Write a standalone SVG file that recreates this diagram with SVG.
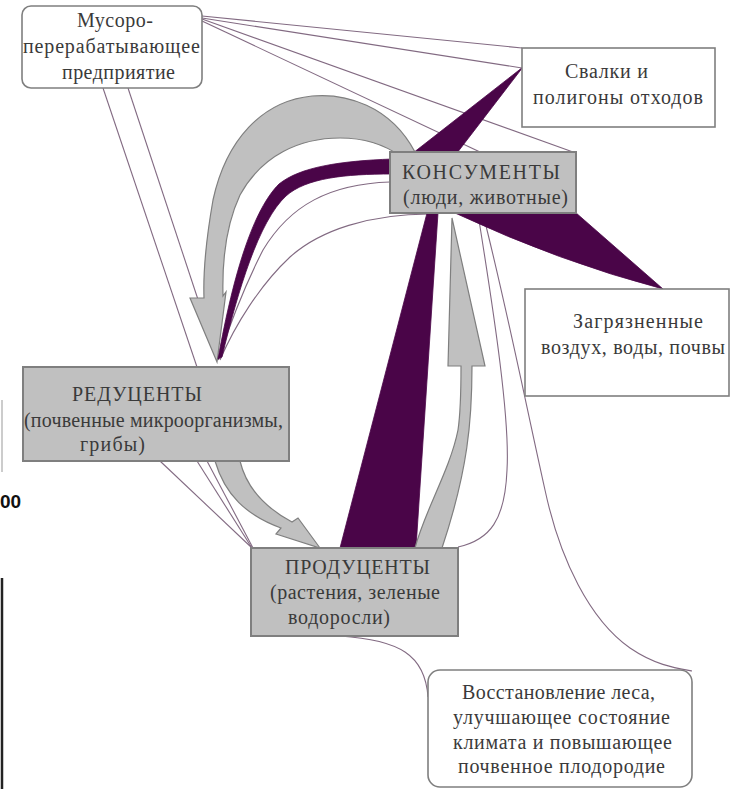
<svg xmlns="http://www.w3.org/2000/svg" width="731" height="789" viewBox="0 0 731 789">
<style>
.bg{fill:#ffffff}
.wbox{fill:#ffffff;stroke:#7f7f7f;stroke-width:1.6}
.gbox{fill:#c0c0c0;stroke:#7f7f7f;stroke-width:2}
.t{font-family:"Liberation Serif","Times New Roman",serif;font-size:20px;fill:#3a3a3a}
.thin{fill:none;stroke:#826a82;stroke-width:1.1}
.purple{fill:#4a0548;stroke:#4a0548;stroke-width:0.8}
.grey{fill:#c0c0c0;stroke:#7f7f7f;stroke-width:1.2}
</style>
<rect class="bg" x="0" y="0" width="731" height="789"/>
<g id="edge-artifacts">
<text x="0" y="508" font-family="Liberation Sans, Arial, sans-serif" font-size="19" font-weight="bold" fill="#111">00</text>
<line x1="2" y1="578" x2="2" y2="789" stroke="#222" stroke-width="2.5"/>
<line x1="2" y1="400" x2="2" y2="472" stroke="#bbbbbb" stroke-width="1.5"/>
</g>
<g id="connectors">
<path class="thin" d="M202,16 L522,48"/>
<path class="thin" d="M202,18 L522,68"/>
<path class="thin" d="M202,19 L573,152"/>
<path class="thin" d="M202,21 L480,152"/>
<path class="thin" d="M103,88 L197,367"/>
<path class="thin" d="M128,88 L218,360"/>
<path class="thin" d="M160,461 L252,548"/>
<path class="thin" d="M197,461 L252,548"/>
<path class="thin" d="M207,461 L253,548"/>
<path class="thin" d="M390,182 C330,184 290,205 263,250 C245,285 228,330 218,360"/>
<path class="thin" d="M430,214 C370,214 320,230 290,257 C260,285 235,325 220,360"/>
<path class="thin" d="M478,214 C495,320 510,420 507,470 C505,520 490,540 458,547"/>
<path class="thin" d="M483,214 C505,300 525,400 545,490 C560,560 590,620 630,648 C655,665 675,668 692,671"/>
<path class="thin" d="M340,636 C400,640 425,655 428,697"/>
<path class="grey" d="M415,152 C390,105 345,93 312,96 C262,101 226,140 213,200 C206,240 203,270 204,298 L190,298 L217,362 L226,292 L223,296 C222,260 226,225 240,195 C262,155 300,138 340,138 C365,138 385,145 400,156 Z"/>
<path class="purple" d="M392,159 C340,161 300,167 279,184 C254,209 234,270 218,359 L222,357 C238,290 259,221 286,196 C306,178 345,174 392,174 Z"/>
<path class="purple" d="M413,153 L457,153 L523,67 Z"/>
<path class="purple" d="M455,213 L575,212 L663,289 Q560,262 455,213 Z"/>
<path class="purple" d="M427,213 L438,213 L416,548 L340,548 Z"/>
<path class="grey" d="M415,548 C425,510 450,470 458,430 C461,410 461,390 461,366 L448,366 L452,218 L485,366 L472,366 C472,420 468,470 442,548 Z"/>
<path class="grey" d="M215,461 C225,495 246,515 281,528 L276,534 L320,548 L298,518 L292,522 C262,506 246,486 240,461 Z"/>
</g>
<g id="node-musoro">
<rect class="wbox" x="22" y="6" width="180" height="82" rx="9"/>
<text class="t" x="77" y="27" textLength="76" lengthAdjust="spacing">Мусоро-</text>
<text class="t" x="23" y="53" textLength="177" lengthAdjust="spacing">перерабатывающее</text>
<text class="t" x="62" y="79" textLength="113" lengthAdjust="spacing">предприятие</text>
</g>
<g id="node-svalki">
<rect class="wbox" x="522" y="48" width="193" height="79"/>
<text class="t" x="565" y="78" textLength="83" lengthAdjust="spacing">Свалки и</text>
<text class="t" x="533" y="104" textLength="170" lengthAdjust="spacing">полигоны отходов</text>
</g>
<g id="node-konsumenty">
<rect class="gbox" x="390" y="152" width="186" height="61"/>
<text class="t" x="402" y="179" textLength="158" lengthAdjust="spacing">КОНСУМЕНТЫ</text>
<text class="t" x="403" y="204" textLength="165" lengthAdjust="spacing">(люди, животные)</text>
</g>
<g id="node-zagryaznennye">
<rect class="wbox" x="525" y="289" width="204" height="107"/>
<text class="t" x="573" y="328" textLength="130" lengthAdjust="spacing">Загрязненные</text>
<text class="t" x="541" y="354" textLength="184" lengthAdjust="spacing">воздух, воды, почвы</text>
</g>
<g id="node-reducenty">
<rect class="gbox" x="23" y="367" width="266" height="94"/>
<text class="t" x="72" y="401" textLength="130" lengthAdjust="spacing">РЕДУЦЕНТЫ</text>
<text class="t" x="24" y="427" textLength="259" lengthAdjust="spacing">(почвенные микроорганизмы,</text>
<text class="t" x="80" y="451" textLength="65" lengthAdjust="spacing">грибы)</text>
</g>
<g id="node-producenty">
<rect class="gbox" x="251" y="548" width="207" height="88"/>
<text class="t" x="285" y="574" textLength="145" lengthAdjust="spacing">ПРОДУЦЕНТЫ</text>
<text class="t" x="270" y="599" textLength="170" lengthAdjust="spacing">(растения, зеленые</text>
<text class="t" x="288" y="624" textLength="102" lengthAdjust="spacing">водоросли)</text>
</g>
<g id="node-vosstanovlenie">
<rect class="wbox" x="428" y="670" width="264" height="117" rx="12"/>
<text class="t" x="462" y="699" textLength="193" lengthAdjust="spacing">Восстановление леса,</text>
<text class="t" x="453" y="724" textLength="217" lengthAdjust="spacing">улучшающее состояние</text>
<text class="t" x="453" y="749" textLength="219" lengthAdjust="spacing">климата и повышающее</text>
<text class="t" x="458" y="773" textLength="207" lengthAdjust="spacing">почвенное плодородие</text>
</g>
</svg>
